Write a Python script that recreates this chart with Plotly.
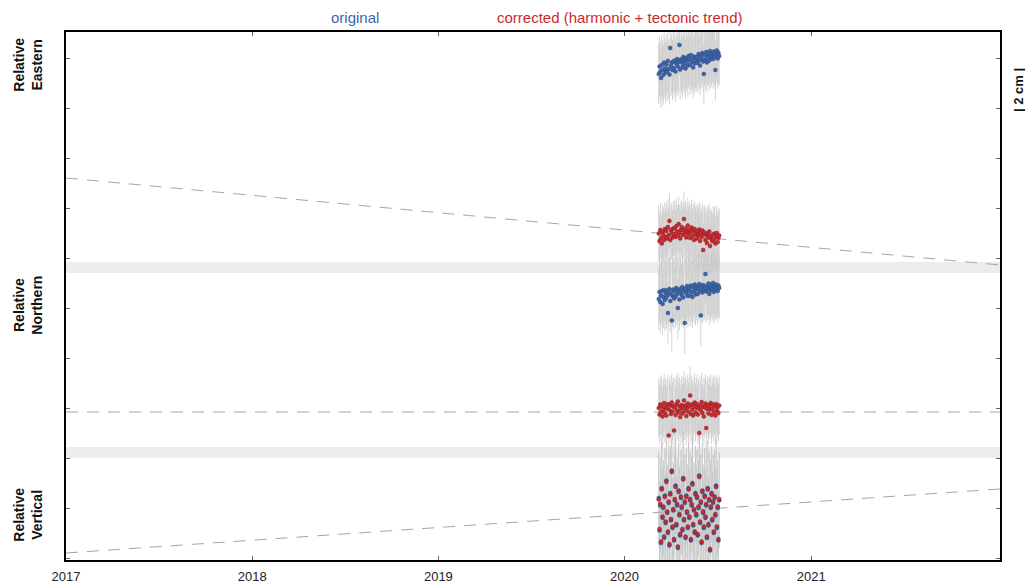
import pandas as pd
import plotly.graph_objects as go

# ---------------- data (cm) ----------------
dates = pd.date_range("2020-03-08", periods=80, freq="36h")

east_orig = [-0.20, -0.05, -0.15, -0.28, -0.02, -0.12, -0.22, 0.03, -0.09, -0.17,
             -0.01, -0.14, 0.06, -0.10, -0.21, 0.32, -0.04, 0.02, -0.12, 0.05,
             -0.08, 0.07, -0.15, 0.01, 0.10, -0.05, 0.04, 0.38, -0.11, 0.09,
             0.03, -0.06, 0.14, 0.00, 0.08, -0.09, 0.12, 0.05, -0.03, 0.16,
             0.10, -0.02, 0.18, 0.04, 0.09, -0.07, 0.15, 0.01, 0.12, 0.06,
             0.14, 0.02, 0.20, 0.08, -0.03, 0.17, 0.11, 0.22, 0.05, -0.20,
             0.18, 0.09, 0.24, 0.03, 0.15, 0.20, 0.07, 0.26, 0.12, 0.17,
             0.21, 0.10, 0.25, 0.14, -0.12, 0.19, 0.27, 0.11, 0.22, 0.16]
east_corr = [0.05, -0.10, 0.12, -0.04, -0.15, 0.08, 0.02, -0.08, 0.14, -0.02,
             0.10, -0.05, 0.18, 0.02, 0.30, -0.08, 0.12, 0.06, -0.03, 0.15,
             0.04, 0.16, -0.02, 0.20, 0.09, 0.01, 0.24, 0.07, -0.05, 0.13,
             0.18, 0.02, 0.11, 0.34, 0.05, 0.15, -0.03, 0.09, 0.21, 0.04,
             0.12, -0.04, 0.08, 0.17, 0.00, 0.10, -0.08, 0.14, 0.03, 0.07,
             -0.05, 0.09, 0.02, 0.13, -0.10, 0.06, -0.02, 0.11, -0.28, 0.04,
             0.07, -0.08, 0.02, -0.14, 0.05, -0.03, 0.09, -0.20, 0.00, -0.06,
             -0.10, 0.03, -0.07, 0.05, -0.15, -0.02, 0.06, -0.12, -0.04, 0.01]
north_orig = [-0.12, 0.02, -0.18, -0.05, 0.04, -0.22, -0.08, 0.06, -0.14, -0.01,
              -0.09, 0.05, -0.40, -0.03, 0.08, -0.16, 0.00, -0.55, -0.06, 0.07,
              -0.11, 0.03, -0.07, 0.10, -0.02, -0.30, 0.06, -0.13, 0.01, 0.09,
              -0.04, 0.12, -0.09, 0.04, -0.60, 0.08, -0.01, 0.14, -0.06, 0.05,
              0.10, -0.05, 0.15, 0.02, -0.08, 0.11, 0.03, 0.17, -0.03, 0.07,
              0.13, -0.02, 0.09, 0.18, 0.04, -0.45, 0.12, 0.01, 0.16, 0.06,
              0.10, 0.38, 0.03, 0.14, 0.08, 0.19, -0.02, 0.11, 0.05, 0.16,
              0.09, 0.20, 0.02, 0.13, 0.07, 0.17, 0.11, 0.04, 0.15, 0.10]
north_corr = [0.05, -0.08, 0.12, -0.03, 0.09, -0.12, 0.02, 0.15, -0.05, 0.07,
              -0.10, 0.04, 0.13, -0.50, 0.01, 0.10, -0.07, 0.16, -0.02, 0.08,
              -0.40, 0.06, -0.09, 0.12, 0.00, 0.18, -0.04, 0.09, -0.13, 0.03,
              0.11, -0.06, 0.07, 0.20, -0.01, 0.10, -0.11, 0.05, 0.14, -0.03,
              0.08, 0.30, -0.07, 0.12, 0.02, -0.10, 0.09, 0.16, -0.04, 0.06,
              0.13, -0.08, 0.04, -0.45, 0.10, 0.01, 0.17, -0.05, 0.08, -0.12,
              0.06, 0.14, -0.35, 0.03, 0.11, -0.06, 0.09, 0.02, 0.15, -0.09,
              0.04, 0.12, -0.03, 0.08, -0.10, 0.13, 0.00, 0.07, -0.05, 0.10]
vert_orig = [0.25, -0.40, 0.10, -0.65, 0.45, -0.15, 0.05, -0.55, 0.30, -0.25,
             0.60, -0.05, -0.45, 0.15, -0.70, 0.35, -0.20, 0.80, -0.35, 0.00,
             -0.60, 0.20, 0.50, -0.30, 0.10, -0.75, 0.40, -0.10, -0.50, 0.25,
             0.05, -0.40, 0.65, -0.20, 0.15, -0.55, 0.30, -0.05, -0.35, 0.45,
             -0.15, 0.20, -0.60, 0.10, 0.55, -0.30, 0.00, -0.45, 0.35, -0.10,
             0.25, -0.50, 0.05, 0.70, -0.25, 0.15, -0.65, 0.40, -0.05, -0.35,
             0.30, -0.15, 0.10, -0.55, 0.45, -0.30, 0.20, -0.80, 0.05, 0.35,
             -0.20, 0.15, -0.45, 0.25, -0.10, 0.50, -0.35, 0.05, -0.60, 0.20]
vert_corr = [0.22, -0.37, 0.13, -0.62, 0.42, -0.12, 0.08, -0.52, 0.27, -0.22,
             0.57, -0.02, -0.42, 0.18, -0.67, 0.32, -0.17, 0.77, -0.32, 0.03,
             -0.57, 0.23, 0.47, -0.27, 0.13, -0.72, 0.37, -0.07, -0.47, 0.28,
             0.08, -0.37, 0.62, -0.17, 0.18, -0.52, 0.27, -0.02, -0.32, 0.42,
             -0.12, 0.23, -0.57, 0.13, 0.52, -0.27, 0.03, -0.42, 0.32, -0.07,
             0.28, -0.47, 0.08, 0.67, -0.22, 0.18, -0.62, 0.37, -0.02, -0.32,
             0.27, -0.12, 0.13, -0.52, 0.42, -0.27, 0.23, -0.77, 0.08, 0.32,
             -0.17, 0.18, -0.42, 0.28, -0.07, 0.47, -0.32, 0.08, -0.57, 0.23]

trend_dates = ["2017-01-01", "2022-01-06"]
east_trend = [1.16, -0.58]
north_trend = [-0.03, -0.03]
vert_trend = [-0.85, 0.43]

year_ticks = ["2017-01-01", "2018-01-01", "2019-01-01", "2020-01-01", "2021-01-01"]
year_labels = ["2017", "2018", "2019", "2020", "2021"]

# ---------------- layout constants ----------------
OFF_E_ORIG, OFF_E_CORR = 9.88, 6.44
OFF_N_ORIG, OFF_N_CORR = 5.30, 2.95
OFF_V = 0.95
BLUE = "#3c66a9"
RED = "#cb2a30"
FONT = "Liberation Sans, Arial, sans-serif"


def shift(vals, off):
    return [v + off for v in vals]


fig = go.Figure()

series = [
    (east_orig, OFF_E_ORIG, BLUE, "#23407a", 0.6),
    (east_corr, OFF_E_CORR, RED, "#7a1a1e", 0.55),
    (north_orig, OFF_N_ORIG, BLUE, "#23407a", 0.62),
    (north_corr, OFF_N_CORR, RED, "#7a1a1e", 0.58),
    (vert_orig, OFF_V, BLUE, "#23407a", 0.95),
    (vert_corr, OFF_V, RED, "#4a2040", 0.95),
]

# error bars first (behind all markers)
for vals, off, col, edge, err in series:
    fig.add_trace(go.Scatter(
        x=dates, y=shift(vals, off), mode="markers",
        marker=dict(size=1, color="rgba(0,0,0,0)"),
        error_y=dict(type="constant", value=err, color="rgba(200,200,200,0.8)",
                     thickness=1, width=0),
        showlegend=False, hoverinfo="skip"))

# trend lines
for tr, off in [(east_trend, OFF_E_CORR), (north_trend, OFF_N_CORR), (vert_trend, OFF_V)]:
    fig.add_trace(go.Scatter(
        x=trend_dates, y=shift(tr, off), mode="lines",
        line=dict(color="#a5a5a5", width=1, dash="12px,9px"),
        showlegend=False, hoverinfo="skip"))

# markers
for vals, off, col, edge, err in series:
    fig.add_trace(go.Scatter(
        x=dates, y=shift(vals, off), mode="markers",
        marker=dict(size=4, color=col, line=dict(width=0.4, color=edge)),
        showlegend=False))

# gray separating bands
for y0, y1 in [(5.70, 5.92), (2.00, 2.22)]:
    fig.add_shape(type="rect", xref="x domain", yref="y", x0=0, x1=1,
                  y0=y0, y1=y1, fillcolor="#ececec", line=dict(width=0),
                  layer="below")

anns = [
    dict(text="<b>Relative<br>Eastern</b>", x=-0.041, y=9.86, textangle=-90),
    dict(text="<b>Relative<br>Northern</b>", x=-0.041, y=5.06, textangle=-90),
    dict(text="<b>Relative<br>Vertical</b>", x=-0.041, y=0.86, textangle=-90),
]
for a in anns:
    fig.add_annotation(xref="paper", yref="y", showarrow=False,
                       xanchor="center", yanchor="middle",
                       font=dict(family=FONT, size=14, color="#111"), **a)

fig.add_annotation(text="<b>| 2 cm |</b>", xref="paper", yref="y",
                   x=1.0193, y=9.36, textangle=-90, showarrow=False,
                   xanchor="center", yanchor="middle",
                   font=dict(family=FONT, size=13, color="#111"))

fig.add_annotation(text="original", xref="paper", yref="paper",
                   x=(355 - 66) / 934, y=1 + (32 - 17) / 528, showarrow=False,
                   xanchor="center", yanchor="middle",
                   font=dict(family=FONT, size=15, color=BLUE))
fig.add_annotation(text="corrected (harmonic + tectonic trend)", xref="paper",
                   yref="paper", x=(620 - 66) / 934, y=1 + (32 - 17) / 528,
                   showarrow=False, xanchor="center", yanchor="middle",
                   font=dict(family=FONT, size=15, color=RED))

fig.update_layout(
    width=1025, height=587,
    margin=dict(l=66, r=25, t=32, b=27, autoexpand=False),
    paper_bgcolor="white", plot_bgcolor="white",
    font=dict(family=FONT),
    xaxis=dict(type="date", range=["2017-01-01", "2022-01-06"],
               tickvals=year_ticks, ticktext=year_labels,
               ticks="inside", ticklen=4, tickcolor="#666",
               ticklabelstandoff=4, automargin=False,
               showline=True, linecolor="black", linewidth=1.5,
               mirror="ticks", showgrid=False, zeroline=False,
               tickfont=dict(size=13, color="#222")),
    yaxis=dict(range=[-0.04, 10.52], tick0=0, dtick=1, automargin=False,
               ticks="inside", ticklen=4, tickcolor="#666",
               showticklabels=False, showline=True, linecolor="black",
               linewidth=1.5, mirror="ticks", showgrid=False, zeroline=False),
)

fig.write_html("out.html")
